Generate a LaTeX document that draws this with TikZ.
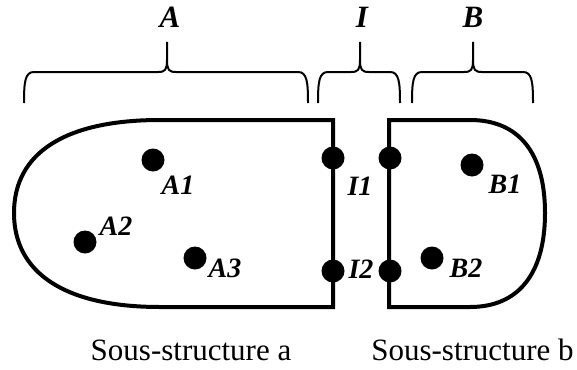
\documentclass[tikz,border=0pt]{standalone}
\usepackage{fontspec}
\setmainfont{Liberation Serif}
\newcommand{\myBrace}[3]{%
  \draw[bracepath] (#1,103) .. controls (#1,82) and (#1+1,72) .. (#1+10,72) -- (#2-9,72) .. controls (#2-2,72) and (#2,70) .. (#2,60) -- (#2,42);
  \draw[bracepath] (#3,103) .. controls (#3,82) and (#3-1,72) .. (#3-10,72) -- (#2+9,72) .. controls (#2+2,72) and (#2,70) .. (#2,60);
}
\begin{document}
\begin{tikzpicture}[x=1pt,y=-1pt,
  outline/.style={line width=4pt, line join=miter},
  bracepath/.style={line width=2pt},
  dot/.style={circle, fill=black, inner sep=0pt, minimum size=23pt},
  lbl/.style={font=\fontsize{28}{28}\selectfont\bfseries\itshape, anchor=base, inner sep=0pt},
  toplbl/.style={font=\fontsize{31}{31}\selectfont\bfseries\itshape, anchor=base, inner sep=0pt},
  caption/.style={font=\fontsize{31}{31}\selectfont, anchor=base, inner sep=0pt}]
\useasboundingbox (0,0) rectangle (577,369);

% sub-structure A
\draw[outline] (333,120) -- (160,120) .. controls (65,120) and (14,153) .. (14,213)
  .. controls (14,273) and (65,307) .. (160,307) -- (333,307) -- cycle;
% sub-structure B
\draw[outline] (389,120) -- (470,120) .. controls (519,120) and (545,153) .. (545,213)
  .. controls (545,273) and (519,307) .. (470,307) -- (389,307) -- cycle;

% braces
\myBrace{24}{167}{308}
\myBrace{318}{360}{400}
\myBrace{412}{473}{533}

\node[toplbl] (lA) at (170,28) {A};
\node[toplbl] (lI) at (362,28) {I};
\node[toplbl] (lB) at (473,28) {B};

% dots
\node[dot] (a1) at (153,160) {};
\node[dot] (a2) at (85,242) {};
\node[dot] (a3) at (195,258) {};
\node[dot] (i1a) at (333,158) {};
\node[dot] (i2a) at (333,271) {};
\node[dot] (i1b) at (390,158) {};
\node[dot] (i2b) at (390,271) {};
\node[dot] (b1) at (472,165) {};
\node[dot] (b2) at (432,258) {};

% labels
\node[lbl] (la1) at (178,194) {A1};
\node[lbl] (la2) at (116,235) {A2};
\node[lbl] (la3) at (225,277) {A3};
\node[lbl] (li1) at (360,195) {I1};
\node[lbl] (li2) at (361,278) {I2};
\node[lbl] (lb1) at (505,193) {B1};
\node[lbl] (lb2) at (466,277) {B2};

\node[caption] (capa) at (191,360) {Sous-structure a};
\node[caption] (capb) at (472.5,360) {Sous-structure b};
\end{tikzpicture}
\end{document}
